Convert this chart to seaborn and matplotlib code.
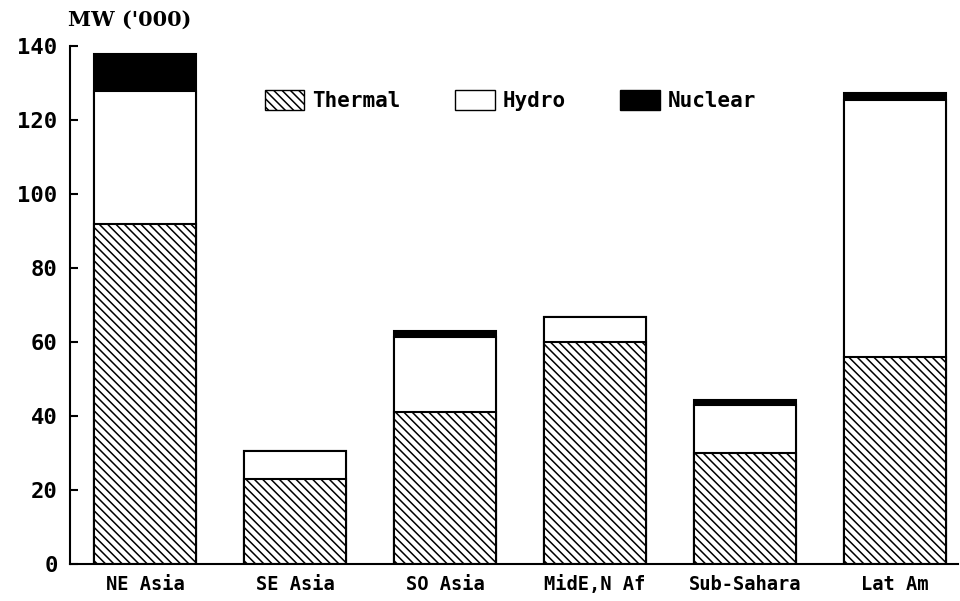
import matplotlib
matplotlib.use("Agg")
from matplotlib import pyplot as plt
from matplotlib.patches import Patch
import pandas as pd
import seaborn as sns

# data, MW ('000)
regions = ['NE Asia', 'SE Asia', 'SO Asia', 'MidE,N Af', 'Sub-Sahara', 'Lat Am']
thermal = [92, 23, 41, 60, 30, 56]
hydro = [36, 7.5, 20.5, 6.8, 13, 69.5]
nuclear = [10, 0, 1.5, 0, 1.3, 2]

df = pd.DataFrame({'region': regions, 'Thermal': thermal,
                   'Hydro': hydro, 'Nuclear': nuclear})
# cumulative tops for overlapping (stacked) bars
df['top_hydro'] = df['Thermal'] + df['Hydro']
df['top_nuclear'] = df['top_hydro'] + df['Nuclear']

sns.set_style('white')
plt.rcParams['font.family'] = ['DejaVu Sans Mono', 'DejaVu Sans']
plt.rcParams['font.weight'] = 'bold'
plt.rcParams['text.color'] = 'black'
plt.rcParams['hatch.linewidth'] = 1.1

fig = plt.figure(figsize=(9.6, 6.01), dpi=100)
ax = fig.add_axes([0.073, 0.0616, 0.925, 0.8614])

bw = 0.68
# tallest first, then overdraw lower segments
sns.barplot(data=df, x='region', y='top_nuclear', color='black',
            edgecolor='black', linewidth=1.5, width=bw, ax=ax)
sns.barplot(data=df, x='region', y='top_hydro', color='white',
            edgecolor='black', linewidth=1.5, width=bw, ax=ax)
sns.barplot(data=df, x='region', y='Thermal', color='white',
            edgecolor='black', linewidth=1.5, width=bw, ax=ax,
            hatch='\\\\\\\\')

ax.set_xlim(-0.5, 5.42)
ax.set_ylim(0, 140)
ax.set_yticks(range(0, 141, 20))
ax.set_xlabel('')
ax.set_ylabel('')

for s in ['top', 'right']:
    ax.spines[s].set_visible(False)
for s in ['left', 'bottom']:
    ax.spines[s].set_color('black')
    ax.spines[s].set_linewidth(1.5)

ax.tick_params(axis='y', direction='in', length=6, width=1.5,
               labelsize=16, pad=9, left=True, colors='black')
ax.tick_params(axis='x', length=0, labelsize=13.5, pad=8, colors='black')

fig.text(0.071, 0.967, "MW ('000)", fontsize=15, fontweight='bold',
         family='DejaVu Serif', va='center', color='black')

# legend
handles = [Patch(facecolor='white', edgecolor='black', hatch='\\\\\\\\', label='Thermal'),
           Patch(facecolor='white', edgecolor='black', label='Hydro'),
           Patch(facecolor='black', edgecolor='black', label='Nuclear')]
ax.legend(handles=handles, ncol=3, frameon=False, loc='center',
          bbox_to_anchor=(0.496, 0.896), fontsize=15, handlelength=1.9,
          handleheight=1.1, handletextpad=0.4, columnspacing=2.6,
          labelcolor='black')

plt.savefig('out.png', dpi=100)
